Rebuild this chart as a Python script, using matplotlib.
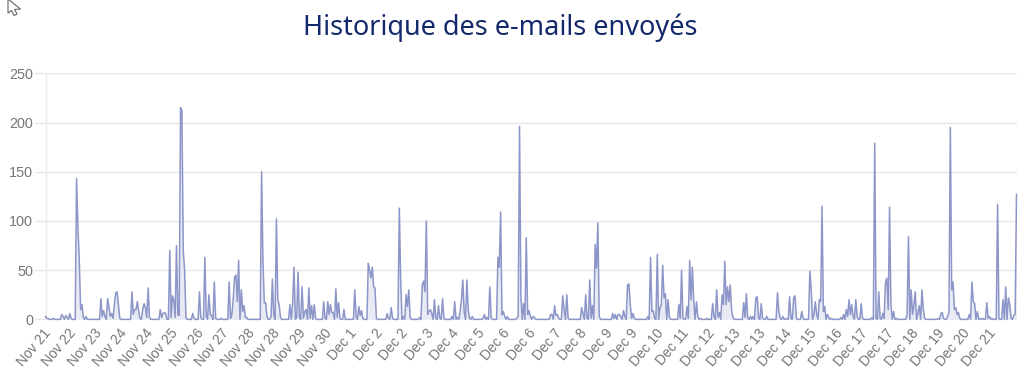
import numpy as np
import matplotlib
matplotlib.use("Agg")
import matplotlib.pyplot as plt
from matplotlib.patches import Polygon
from matplotlib.transforms import ScaledTranslation

title = "Historique des e-mails envoyés"
tick_labels = ["Nov 21","Nov 22","Nov 23","Nov 24","Nov 24","Nov 25","Nov 26","Nov 27","Nov 28","Nov 28","Nov 29","Nov 30",
               "Dec 1","Dec 2","Dec 2","Dec 3","Dec 4","Dec 5","Dec 6","Dec 6","Dec 7","Dec 8","Dec 9","Dec 9","Dec 10",
               "Dec 11","Dec 12","Dec 13","Dec 13","Dec 14","Dec 15","Dec 16","Dec 17","Dec 17","Dec 18","Dec 19","Dec 20","Dec 21"]
y_ticks = [0, 50, 100, 150, 200, 250]
n_hours = 720

# (hour index, e-mails sent); every hour not listed sent none
period_nov = [(0,3),(1,1),(2,1),(6,1),(12,5),(13,3),(15,4),(16,2),(18,6),(19,1),(23,143),(24,95),(25,60),(26,10),(27,15),(28,2),(30,3),
 (41,21),(42,3),(43,9),(44,3),(46,21),(47,12),(48,3),(49,6),(50,1),(51,15),(52,27),(53,28),(54,15),(55,1),
 (64,28),(65,5),(66,10),(67,10),(68,18),(69,8),(70,1),(72,10),(73,16),(74,12),(75,2),(76,32),(77,2),
 (85,10),(86,2),(87,6),(88,7),(89,6),(92,70),(93,2),(94,24),(95,20),(96,2),(97,75),(98,5),(99,4),(100,215),(101,212),(102,70),(103,50),(104,2),
 (109,6),(110,1),(114,28),(115,2),(118,63),(119,3),(121,25),(122,5),(123,4),(125,38),(126,1),(130,1),
 (136,38),(137,1),(138,5),(139,20),(140,43),(141,45),(142,18),(143,60),(145,30),(146,8),(147,14),(148,2),(149,2),
 (160,150),(161,60),(162,17),(163,17),(164,3),(167,3),(168,41),(169,5),(171,102),(172,20),(173,15),(174,2),
 (181,15),(183,16),(184,53),(186,2),(187,48),(188,2),(190,33),(191,1),(192,8),(193,10),(195,32),(196,1),(197,14),(199,15),(200,1),
 (206,18),(207,1),(209,18),(210,5),(211,15),(212,7),(213,7),(215,31),(216,2),(217,17),(218,1)]
period_dec_a = [(221,10),(223,0),(229,30),(230,2),(232,13),(233,4),(234,9),(235,1),
 (239,57),(240,50),(241,42),(242,53),(243,33),(244,32),(245,1),(253,6),(254,1),(256,12),(257,1),
 (262,113),(263,40),(265,3),(267,25),(268,13),(269,30),(270,2),(277,2),(279,35),(280,39),(281,28),(282,100),(283,5),(284,8),(285,10),(286,6),(288,20),(289,1),(291,14),(292,1),(294,21),(295,1),
 (301,3),(303,18),(305,2),(307,8),(308,20),(309,40),(310,8),(312,40),(313,10),(314,1),(316,3),
 (324,1),(325,5),(327,2),(329,33),(330,2),(335,63),(336,53),(337,109),(338,5),(339,8),(340,3),(342,3),
 (349,1),(350,3),(351,196),(352,25),(354,16),(356,83),(357,5),(358,9),(359,3),(361,3),(362,2),
 (374,5),(375,5),(377,14),(378,4),(379,5),(380,1),(383,24),(384,10),(386,25),(387,1),
 (397,12),(398,6),(400,25),(401,1),(403,40),(404,1),(405,14),(407,76),(408,52),(409,98),(410,3),
 (420,6),(421,1),(422,5),(424,5),(425,5),(426,3),(428,9),(429,3),(431,35),(432,36),(433,15),(434,1),(435,6),(436,1),
 (446,3),(448,63),(449,8),(450,9),(451,1),(453,66),(455,12),(456,15),(457,55),(458,22),(459,26),(461,20),(462,2),(469,15),(470,1)]
period_dec_b = [(471,50),(472,1),(475,13),(476,1),(477,60),(478,20),(479,53),(480,18),(482,18),(483,3),(485,1),(490,1),
 (494,16),(495,3),(497,30),(498,2),(499,7),(501,25),(502,15),(503,59),(504,15),(505,33),(506,18),(507,35),(508,10),(509,2),
 (517,17),(518,2),(519,26),(520,1),(522,3),(524,3),(526,22),(527,23),(528,1),(530,16),(531,1),(534,3),
 (542,27),(543,8),(544,1),(546,3),(548,1),(551,23),(552,1),(554,22),(555,24),(556,1),(560,8),(561,1),
 (566,49),(567,30),(569,5),(570,18),(571,5),(573,20),(574,18),(575,115),(576,8),(577,13),(579,5),(580,2),(582,1),
 (589,2),(591,5),(593,10),(594,3),(595,20),(596,5),(597,15),(598,3),(600,20),(601,3),(604,16),(605,1),
 (612,2),(614,179),(615,1),(617,28),(618,1),(620,6),(621,1),(622,38),(623,42),(624,10),(625,114),(626,15),(628,8),(630,1),
 (638,5),(639,84),(641,30),(642,5),(643,14),(644,28),(646,6),(647,14),(649,30),(650,10),(651,1),
 (661,1),(663,6),(664,7),(665,1),(668,3),(669,7),(670,195),(671,30),(672,38),(673,10),(674,12),(675,5),(676,7),(677,1),
 (684,5),(686,38),(687,18),(688,16),(690,8),(692,1),(694,1),(697,17),(698,1),(699,3),(701,1),
 (705,117),(706,1),(709,20),(711,33),(713,22),(714,15),(715,1),(717,4),(718,5),(719,127)]

emails = np.zeros(n_hours)
for h, v in period_nov + period_dec_a + period_dec_b:
    emails[h] = v
hours = np.arange(n_hours)

fig = plt.figure(figsize=(10.24, 3.78), dpi=100, facecolor="white")
ax = fig.add_axes([45.5/1024, 1-319.4/378, (1016.5-45.5)/1024, (319.4-73.3)/378])
ax.set_xlim(0, n_hours - 1)
ax.set_ylim(0, 250)

ax.fill_between(hours, emails, 0, color="#e9ebf4", lw=0, zorder=2)
ax.plot(hours, emails, color="#8d96c8", lw=1.1, zorder=3, solid_joinstyle="round", clip_on=False)

ax.set_yticks(y_ticks)
ax.set_xticks(np.arange(len(tick_labels)) * 18.92)
ax.set_xticklabels(tick_labels, rotation=50, ha="right", rotation_mode="anchor",
                   family="Liberation Sans", fontsize=10, color="#777777")
ax.tick_params(axis="x", length=0, pad=5)
ax.tick_params(axis="y", length=8, width=1, color="#e6e6e6", pad=1, labelsize=10.4, labelcolor="#777777")
for lab in ax.get_yticklabels():
    lab.set_family("Liberation Sans")
shift = ScaledTranslation(-3/100, 0, fig.dpi_scale_trans)
for lab in ax.get_xticklabels():
    lab.set_transform(lab.get_transform() + shift)
ax.grid(axis="y", color="#e6e6ea", lw=1)
ax.set_axisbelow(True)
for s in ["top", "right", "bottom"]:
    ax.spines[s].set_visible(False)
ax.spines["left"].set_color("#ececec")
ax.spines["left"].set_linewidth(1)

fig.text(500/1024, 1-28/378, title, ha="center", va="center", color="#14296b",
         family="Noto Sans", fontsize=19.5)

# mouse pointer captured in the screenshot
pointer = [(8,-1),(8,13),(11.5,10.5),(14,15.5),(17,14),(14.5,9.5),(20.5,9)]
fig.add_artist(Polygon([(x/1024, 1-y/378) for x, y in pointer], closed=True, transform=fig.transFigure,
                       facecolor="white", edgecolor="#666666", lw=0.8, clip_on=True))

fig.savefig("out.png", dpi=100)
